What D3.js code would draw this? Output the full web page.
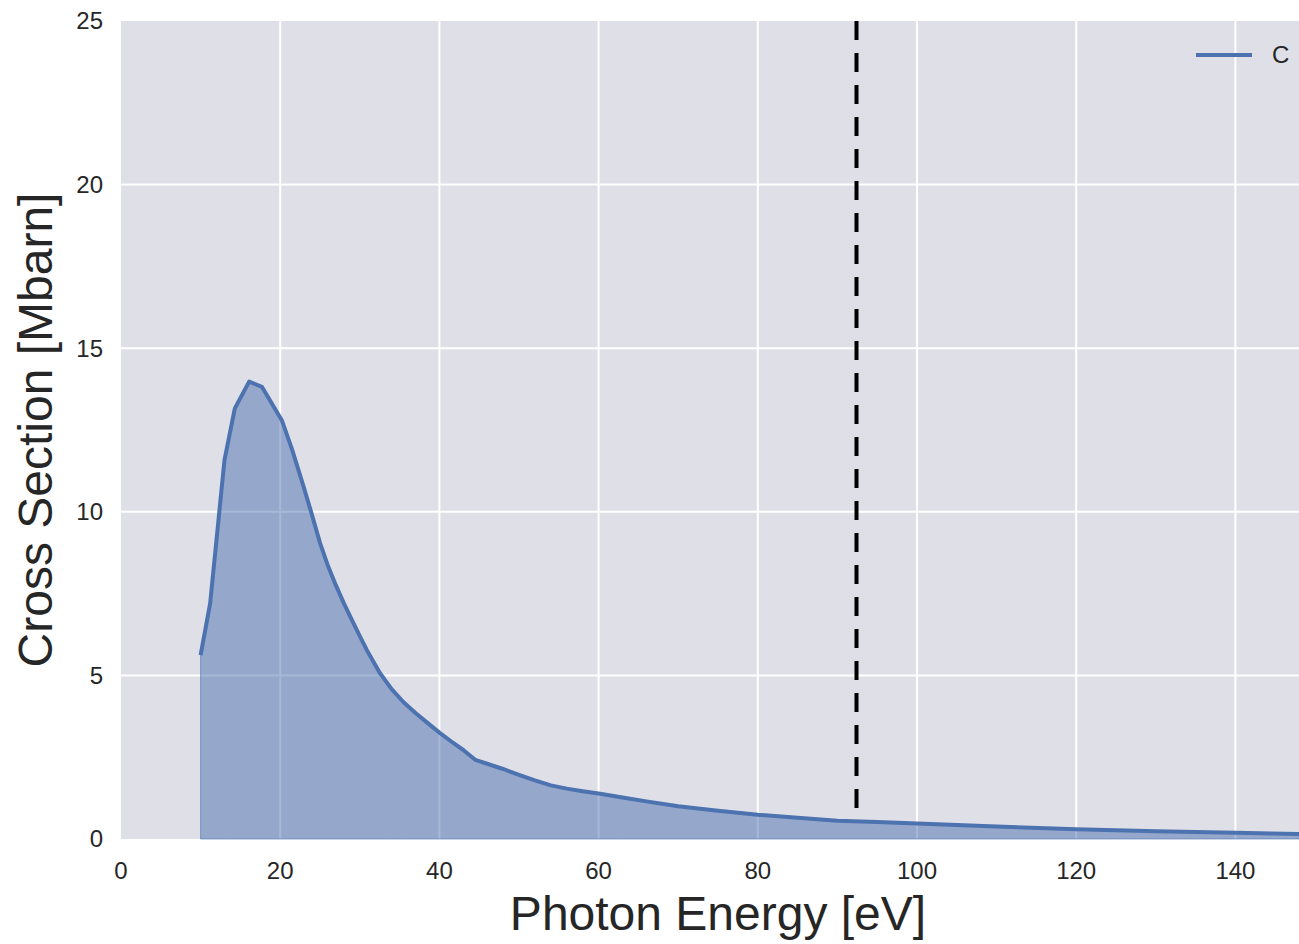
<!DOCTYPE html>
<html>
<head>
<meta charset="utf-8">
<script src="https://cdn.jsdelivr.net/npm/d3@7"></script>
<style>
  body { margin: 0; background: #fff; }
  text { font-family: "Liberation Sans", Arial, sans-serif; fill: #262626; }
</style>
</head>
<body>
<svg></svg>
<script>
const width = 1299;
const height = 944;

// photon energy (eV) and cross section (Mbarn) for C
const energy = [10, 11.2, 13, 14.3, 16.1, 17.7, 20.2, 21.5, 22.9, 24, 25, 26, 27, 28, 29, 30, 31, 32.5,
  34, 35.5, 37, 38.5, 40, 41.5, 43, 44.5, 46, 48, 50, 52, 54, 56, 58, 60, 63, 66, 70, 75, 80, 85, 90, 95,
  100, 110, 120, 130, 140, 148];
const crossSection = [5.62, 7.2, 11.58, 13.16, 13.98, 13.82, 12.8, 11.9, 10.8, 9.9, 9.05, 8.35, 7.75, 7.2, 6.7, 6.2, 5.72, 5.08,
  4.58, 4.18, 3.85, 3.55, 3.25, 2.98, 2.72, 2.42, 2.3, 2.14, 1.96, 1.79, 1.64, 1.54, 1.46, 1.39, 1.27, 1.15, 1.0, 0.86, 0.74, 0.65, 0.56, 0.52,
  0.47, 0.38, 0.3, 0.24, 0.19, 0.15];

const xTicks = [0, 20, 40, 60, 80, 100, 120, 140];
const yTicks = [0, 5, 10, 15, 20, 25];
const edgeEnergy = 92.4;      // dashed marker
const edgeRange = [0.95, 25];
const seriesName = "C";

const margin = { left: 121, top: 21, right: -16, bottom: 105 };

const svg = d3.select("svg")
  .attr("width", width)
  .attr("height", height);

const x = d3.scaleLinear()
  .domain([0, 150])
  .range([margin.left, width - margin.right]);

const y = d3.scaleLinear()
  .domain([0, 25])
  .range([height - margin.bottom, margin.top]);

// background
svg.append("rect")
  .attr("x", x(0))
  .attr("y", y(25))
  .attr("width", x(150) - x(0))
  .attr("height", y(0) - y(25))
  .attr("fill", "#dfdfe7");

// grid
svg.append("g")
  .selectAll("line")
  .data(xTicks.slice(1))
  .enter().append("line")
  .attr("x1", d => x(d)).attr("x2", d => x(d))
  .attr("y1", y(25)).attr("y2", y(0))
  .attr("stroke", "#fff")
  .attr("stroke-width", 2);

svg.append("g")
  .selectAll("line")
  .data(yTicks.slice(1, -1))
  .enter().append("line")
  .attr("y1", d => y(d)).attr("y2", d => y(d))
  .attr("x1", x(0)).attr("x2", x(150))
  .attr("stroke", "#fff")
  .attr("stroke-width", 2);

const pts = energy.map((e, i) => [e, crossSection[i]]);

// filled area
const area = d3.area()
  .x(d => x(d[0]))
  .y0(y(0))
  .y1(d => y(d[1]));

svg.append("path")
  .datum(pts)
  .attr("d", area)
  .attr("fill", "#4c72b0")
  .attr("fill-opacity", 0.5)
  .attr("stroke", "#4c72b0")
  .attr("stroke-opacity", 0.6)
  .attr("stroke-width", 1);

// curve
const line = d3.line()
  .x(d => x(d[0]))
  .y(d => y(d[1]));

svg.append("path")
  .datum(pts)
  .attr("d", line)
  .attr("fill", "none")
  .attr("stroke", "#4c72b0")
  .attr("stroke-width", 4)
  .attr("stroke-linejoin", "round");

// dashed marker
svg.append("line")
  .attr("x1", x(edgeEnergy)).attr("x2", x(edgeEnergy))
  .attr("y1", y(edgeRange[1])).attr("y2", y(edgeRange[0]))
  .attr("stroke", "#000")
  .attr("stroke-width", 4)
  .attr("stroke-dasharray", "19,13");

// tick labels
svg.append("g")
  .selectAll("text")
  .data(xTicks)
  .enter().append("text")
  .attr("x", d => x(d))
  .attr("y", y(0) + 40)
  .attr("text-anchor", "middle")
  .style("font-size", "24px")
  .text(d => d);

svg.append("g")
  .selectAll("text")
  .data(yTicks)
  .enter().append("text")
  .attr("x", x(0) - 18)
  .attr("y", d => y(d))
  .attr("dy", "0.35em")
  .attr("text-anchor", "end")
  .style("font-size", "24px")
  .text(d => d);

// axis titles
svg.append("text")
  .attr("x", (x(0) + x(150)) / 2)
  .attr("y", 930)
  .attr("text-anchor", "middle")
  .style("font-size", "48px")
  .text("Photon Energy [eV]");

svg.append("text")
  .attr("transform", "translate(52," + ((y(0) + y(25)) / 2) + ") rotate(-90)")
  .attr("text-anchor", "middle")
  .style("font-size", "48px")
  .text("Cross Section [Mbarn]");

// legend
const legend = svg.append("g");
legend.append("line")
  .attr("x1", 1196).attr("x2", 1252)
  .attr("y1", 55).attr("y2", 55)
  .attr("stroke", "#4c72b0")
  .attr("stroke-width", 4);
legend.append("text")
  .attr("x", 1272)
  .attr("y", 55)
  .attr("dy", "0.35em")
  .style("font-size", "24px")
  .text(seriesName);
</script>
</body>
</html>
